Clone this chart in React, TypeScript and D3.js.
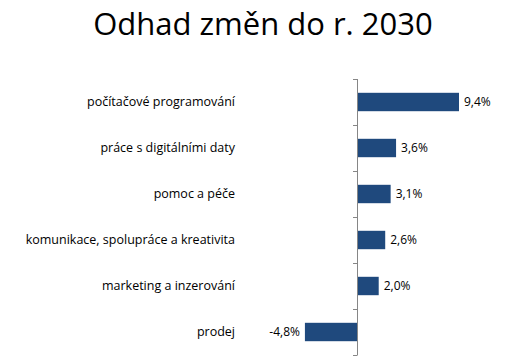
import React, { useEffect, useRef } from 'react';
import * as d3 from 'd3';

const categories = [
  'počítačové programování',
  'práce s digitálními daty',
  'pomoc a péče',
  'komunikace, spolupráce a kreativita',
  'marketing a inzerování',
  'prodej',
];
const values = [9.4, 3.6, 3.1, 2.6, 2.0, -4.8];
const title = 'Odhad změn do r. 2030';

const App = () => {
  const svgRef = useRef<SVGSVGElement>(null);

  useEffect(() => {
    const svg = d3.select(svgRef.current);
    svg.selectAll('*').remove();
    const font = '"Open Sans", sans-serif';

    // title
    svg.append('text')
      .attr('x', 263).attr('y', 35)
      .attr('text-anchor', 'middle')
      .attr('font-family', font)
      .attr('font-size', 31)
      .attr('fill', '#000')
      .text(title);

    const y = d3.scaleBand().domain(categories).range([79, 355]).paddingInner(0.6).paddingOuter(0.3);
    const x = d3.scaleLinear().domain([0, 9.4]).range([357, 459]);

    svg.selectAll('rect.bar')
      .data(values)
      .enter()
      .append('rect')
      .attr('class', 'bar')
      .attr('x', d => x(Math.min(0, d)))
      .attr('y', (d, i) => y(categories[i])!)
      .attr('width', d => Math.abs(x(d) - x(0)))
      .attr('height', y.bandwidth())
      .attr('fill', '#1f497d');

    // value labels
    svg.selectAll('text.val')
      .data(values)
      .enter()
      .append('text')
      .attr('class', 'val')
      .attr('x', d => d >= 0 ? x(d) + 5 : x(d) - 5)
      .attr('y', (d, i) => y(categories[i])! + y.bandwidth() / 2)
      .attr('dy', '0.35em')
      .attr('text-anchor', d => d >= 0 ? 'start' : 'end')
      .attr('font-family', font)
      .attr('font-size', 12)
      .attr('fill', '#000')
      .text(d => d.toFixed(1).replace('.', ',') + '%');

    // category labels
    svg.selectAll('text.cat')
      .data(categories)
      .enter()
      .append('text')
      .attr('class', 'cat')
      .attr('x', 235)
      .attr('y', d => y(d)! + y.bandwidth() / 2)
      .attr('dy', '0.35em')
      .attr('text-anchor', 'end')
      .attr('font-family', font)
      .attr('font-size', 12.5)
      .attr('fill', '#000')
      .text(d => d);

    // vertical axis with ticks between categories
    const step = y.step();
    const axis = svg.append('g').attr('stroke', '#868686').attr('stroke-width', 1);
    axis.append('line')
      .attr('x1', x(0) + 0.5).attr('x2', x(0) + 0.5)
      .attr('y1', 79).attr('y2', 355);
    d3.range(categories.length + 1).forEach(i => {
      const ty = Math.round(79 + i * step) + 0.5;
      axis.append('line')
        .attr('x1', x(0) - 4).attr('x2', x(0) + 0.5)
        .attr('y1', ty).attr('y2', ty);
    });
  }, []);

  return (
    <svg ref={svgRef} width={516} height={359}
      style={{ position: 'absolute', left: 0, top: 0, background: '#fff' }} />
  );
};

export default App;
